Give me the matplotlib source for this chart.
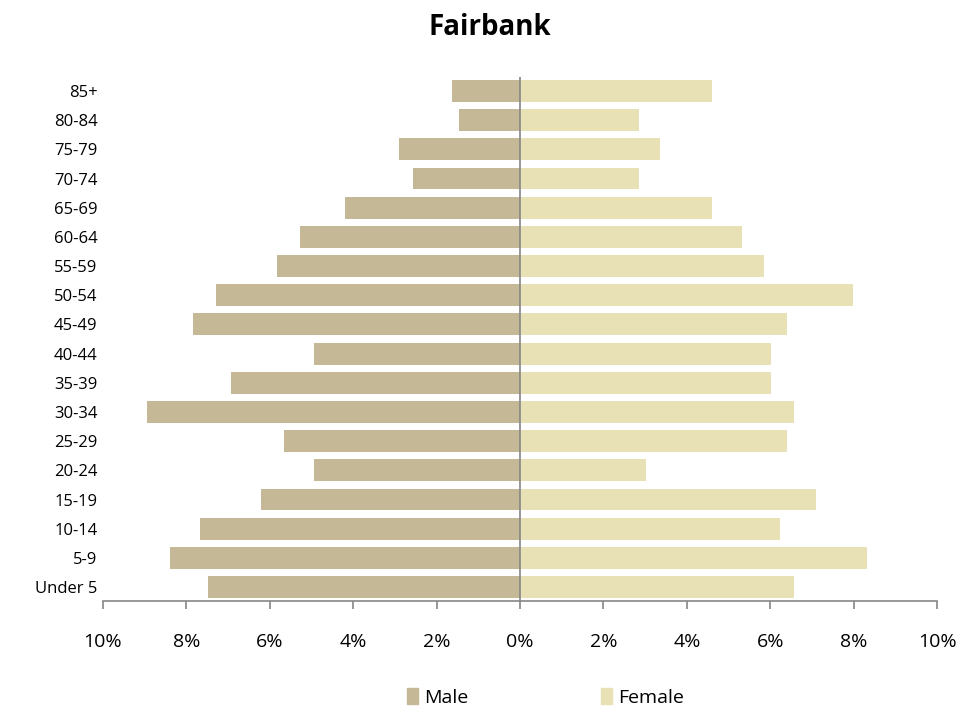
import numpy as np
import matplotlib.pyplot as plt
from matplotlib.ticker import FuncFormatter
from matplotlib.patches import Patch

plt.rcParams['font.family'] = ['Open Sans', 'DejaVu Sans']

ages = ['Under 5', '5-9', '10-14', '15-19', '20-24', '25-29', '30-34', '35-39',
        '40-44', '45-49', '50-54', '55-59', '60-64', '65-69', '70-74', '75-79',
        '80-84', '85+']
male = [7.48, 8.39, 7.67, 6.21, 4.94, 5.66, 8.94, 6.93,
        4.94, 7.84, 7.29, 5.83, 5.28, 4.20, 2.57, 2.90, 1.46, 1.63]
female = [6.57, 8.32, 6.24, 7.10, 3.02, 6.40, 6.57, 6.02,
          6.02, 6.40, 7.99, 5.85, 5.32, 4.60, 2.85, 3.36, 2.85, 4.60]

c_male = '#C4B896'
c_female = '#E8E1B6'

fig = plt.figure(figsize=(9.79, 7.13), dpi=100)
ax = fig.add_axes([0.1052, 0.157, 0.852, 0.735])

y = np.arange(len(ages))
ax.barh(y, -np.array(male), height=0.75, color=c_male, edgecolor='none')
ax.barh(y, female, height=0.75, color=c_female, edgecolor='none')

ax.set_xlim(-10, 10)
ax.set_ylim(-0.48, len(ages) - 0.52)
ax.set_xticks(np.arange(-10, 11, 2))
ax.xaxis.set_major_formatter(FuncFormatter(lambda v, p: '%d%%' % abs(round(v))))
ax.set_yticks(y)
ax.set_yticklabels(ages)

ax.axvline(0, color='#868686', lw=1.2)
for s in ['top', 'right', 'left']:
    ax.spines[s].set_visible(False)
ax.spines['bottom'].set_color('#868686')
ax.spines['bottom'].set_linewidth(1.2)
ax.tick_params(axis='x', direction='out', length=6, width=1.2, color='#868686',
               labelsize=14, pad=17)
ax.tick_params(axis='y', length=0, labelsize=12, pad=4)

fig.text(0.5, 0.962, 'Fairbank', ha='center', va='center', fontsize=20, fontweight='bold')

handles = [Patch(color=c_male, label='Male'), Patch(color=c_female, label='Female')]
fig.legend(handles=handles, loc='center', bbox_to_anchor=(0.557, 0.022), ncol=2,
           frameon=False, fontsize=14, handlelength=0.6, handleheight=0.9,
           handletextpad=0.3, columnspacing=6.8)

fig.savefig('out.png', dpi=100)
